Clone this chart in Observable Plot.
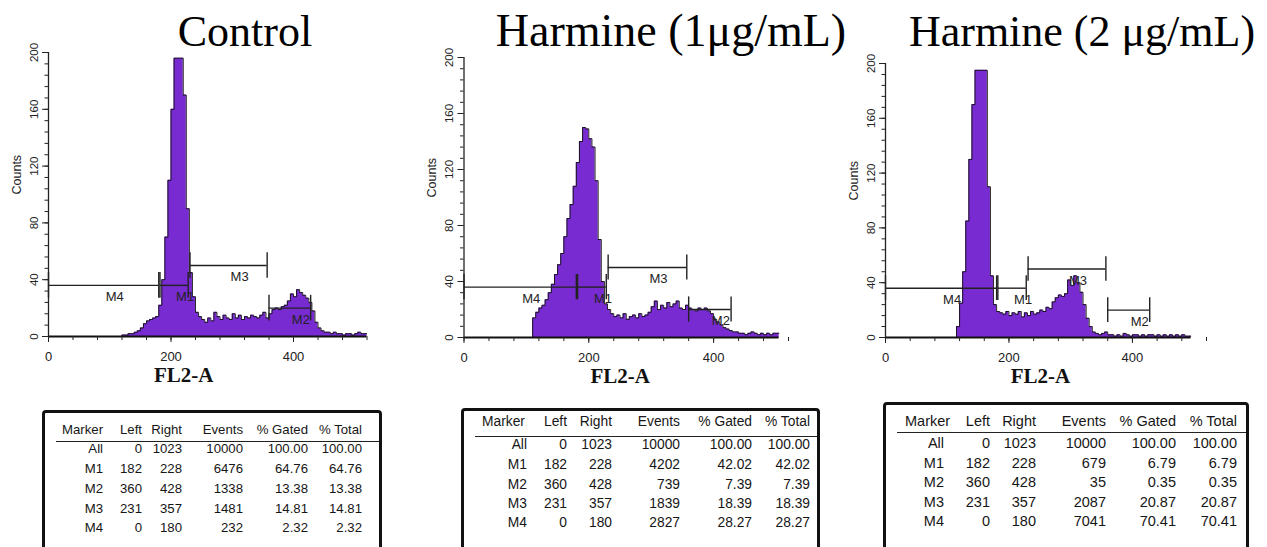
<!DOCTYPE html>
<html><head><meta charset="utf-8">
<script src="https://cdn.jsdelivr.net/npm/d3@7"></script>
<script src="https://cdn.jsdelivr.net/npm/@observablehq/plot@0.6"></script>
<style>
body{margin:0;background:#fff;}
#root{position:relative;width:1267px;height:547px;overflow:hidden;background:#fff;font-family:"Liberation Sans",Arial,sans-serif;}
.panel{position:absolute;top:0;}
.title{position:absolute;width:600px;text-align:center;font-family:"Liberation Serif","Times New Roman",serif;line-height:1;color:#000;white-space:nowrap;}
.tbl{position:absolute;border:3px solid #111;border-radius:4px;box-sizing:border-box;height:220px;background:#fff;}
.cell{position:absolute;white-space:nowrap;line-height:1;color:#161616;}
.hline{position:absolute;height:0;border-top:1.5px solid #222;right:0;}
</style></head><body><div id="root"></div>
<script>
// ---------------- data ----------------
const binWidth = 5; // FL2-A channels per histogram bin (bins start at 0)
const controlCounts = [
  0,0,0,0,0,0,0,0,0,0,0,0,0,0,0,0,0,0,0,0,0,0,0,0,
  1,1,2,2,3,4,6,9,11,12,13,14,22,40,70,110,160,196,196,196,170,90,45,28,17,14,12,
  10,13,11,17,14,12,15,13,12,16,13,15,12,14,13,15,14,13,15,17,13,
  16,19,20,19,21,22,25,30,28,33,31,29,27,24,18,10,6,4,3,3,2,3,2,2,1,2,2,1,2,3,2,2
];
const harmine1Counts = [
  0,0,0,0,0,0,0,0,0,0,0,0,0,0,0,0,0,0,0,0,0,0,
  14,18,21,23,27,32,38,45,52,60,72,85,95,108,125,140,150,149,142,136,112,70,40,24,
  20,17,15,16,14,17,13,15,16,14,17,15,16,18,22,26,20,23,21,25,22,24,26,21,20,23,
  21,20,19,21,20,21,19,17,13,11,9,7,6,5,4,4,3,3,2,3,4,3,2,3,2,3,2,3,3
];
const harmine2Counts = [
  0,0,0,0,0,0,0,0,0,0,0,0,0,0,0,0,0,0,0,0,0,0,0,
  8,25,48,85,130,170,195,195,195,195,110,45,24,19,18,17,19,16,18,17,19,15,18,16,19,17,18,
  20,19,22,21,26,29,31,30,32,42,38,45,40,33,24,14,8,4,3,2,3,4,
  2,2,1,2,1,3,2,1,2,2,1,2,1,2,2,1,2,1,2,1,2,1,2,1,2,1,1
];
const markerNames = ["M1", "M2", "M3", "M4"];
const markerLeft = [182, 360, 231, 0];
const markerRight = [228, 428, 357, 180];
const markerLevel = [36, 20, 50, 36];   // counts at which each marker bar is drawn
const yTicks = [0, 40, 80, 120, 160, 200];
const xTicks = [0, 200, 400];
const titles = ["Control", "Harmine (1\u03bcg/mL)", "Harmine (2 \u03bcg/mL)"];
const xLabel = "FL2-A";
const yLabel = "Counts";

const tableColumns = ["Marker", "Left", "Right", "Events", "% Gated", "% Total"];
const tableMarkers = ["All", "M1", "M2", "M3", "M4"];
const tableLeft = [0, 182, 360, 231, 0];
const tableRight = [1023, 228, 428, 357, 180];
const controlEvents = [10000, 6476, 1338, 1481, 232];
const controlGated = [100, 64.76, 13.38, 14.81, 2.32];
const controlTotal = [100, 64.76, 13.38, 14.81, 2.32];
const harmine1Events = [10000, 4202, 739, 1839, 2827];
const harmine1Gated = [100, 42.02, 7.39, 18.39, 28.27];
const harmine1Total = [100, 42.02, 7.39, 18.39, 28.27];
const harmine2Events = [10000, 679, 35, 2087, 7041];
const harmine2Gated = [100, 6.79, 0.35, 20.87, 70.41];
const harmine2Total = [100, 6.79, 0.35, 20.87, 70.41];

// ---------------- layout ----------------
const purple = "#772bd0";
const layout = [
  {left: 0, width: 400, ml: 48, mr: 33.5, mt: 52, mb: 64, titleX: 245, titleSize: 44, labelDx: -24,
   table: {x: 42, y: 410, w: 340, font: 13.2, markerX: 20, cols: [61, 100, 140, 201, 266, 320], rows: [20, 39, 59, 79, 99, 118], line: 31}},
  {left: 415, width: 410, ml: 48.5, mr: 37, mt: 57, mb: 63, titleX: 671, titleSize: 46, labelDx: -6,
   table: {x: 461, y: 408, w: 359, font: 13.8, markerX: 21, cols: [66, 106, 151, 219, 291, 349], rows: [14, 37, 57, 77, 96, 115], line: 28}},
  {left: 837, width: 430, ml: 48, mr: 61, mt: 63, mb: 63, titleX: 1082, titleSize: 44, labelDx: -5.5,
   table: {x: 883, y: 402, w: 366, font: 14.5, markerX: 22, cols: [61, 107, 153, 223, 293, 354], rows: [19, 41, 61, 80, 100, 119], line: 30}}
];
const panels = [
  {counts: controlCounts, events: controlEvents, gated: controlGated, total: controlTotal},
  {counts: harmine1Counts, events: harmine1Events, gated: harmine1Gated, total: harmine1Total},
  {counts: harmine2Counts, events: harmine2Events, gated: harmine2Gated, total: harmine2Total}
];
const xDomain = [0, 520];
const yDomain = [0, 200];

const root = document.getElementById("root");

function histogram(counts, L) {
  const bins = counts.map((c, k) => ({x: k * binWidth, y: c}));
  const steps = bins.concat([{x: bins.length * binWidth, y: counts[counts.length - 1]}]);
  const markers = markerNames.map((name, k) => ({name, left: markerLeft[k], right: markerRight[k], level: markerLevel[k]}));
  const ends = markers.flatMap(m => [{x: m.left, level: m.level}, {x: m.right, level: m.level}]);
  return Plot.plot({
    width: L.width, height: 400,
    marginLeft: L.ml, marginRight: L.mr, marginTop: L.mt, marginBottom: L.mb,
    x: {domain: xDomain}, y: {domain: yDomain},
    style: {background: "transparent", fontFamily: "'Liberation Sans', Arial, sans-serif", fontSize: "12px", color: "#222", overflow: "visible"},
    marks: [
      Plot.areaY(steps, {x: "x", y: "y", curve: "step-after", fill: purple}),
      Plot.lineY(steps, {x: "x", y: "y", curve: "step-after", stroke: "#111", strokeWidth: 0.9}),
      Plot.ruleY([yDomain[0]], {x1: xDomain[0], x2: steps[steps.length - 1].x, stroke: "#111", strokeWidth: 1.8}),
      Plot.ruleX([xDomain[0]], {y1: yDomain[0], y2: yDomain[1], stroke: "#222", strokeWidth: 1.3}),
      Plot.ruleY(markers, {x1: "left", x2: "right", y: "level", stroke: "#222", strokeWidth: 1.4}),
      Plot.ruleX(ends, {x: "x", y1: d => d.level - 9, y2: d => d.level + 9, stroke: "#222", strokeWidth: 1.4}),
      Plot.text(markers, {x: d => (d.left + d.right) / 2, y: "level", text: "name", textAnchor: "start", dx: 2, dy: 11.5, fontSize: 13, fill: "#222"}),
      Plot.axisY({ticks: yTicks, tickSize: 6, tickPadding: 5, tickRotate: -90, fontSize: 11.5, label: null, stroke: "#222"}),
      Plot.axisY({ticks: d3.range(yDomain[0], yDomain[1] + 1, 8), tickSize: 3.5, text: null, label: null, stroke: "#222"}),
      Plot.axisX({ticks: xTicks, tickSize: 6, tickPadding: 9, fontSize: 13, label: null, stroke: "#222"}),
      Plot.axisX({ticks: d3.range(xDomain[0], xDomain[1] + 1, 40), tickSize: 4, text: null, label: null, stroke: "#222"}),
      Plot.text([yLabel], {text: d => d, frameAnchor: "left", rotate: -90, dx: -32, fontSize: 12.5, fill: "#222"}),
      Plot.text([xLabel], {text: d => d, frameAnchor: "bottom", dy: 45, dx: L.labelDx, fontSize: 21, fontWeight: "bold", fontFamily: "'Liberation Serif', 'Times New Roman', serif", fill: "#111"})
    ]
  });
}

function cell(box, text, x, y, anchor) {
  const s = document.createElement("div");
  s.className = "cell";
  s.textContent = text;
  s.style.left = (x - 3) + "px";
  s.style.top = (y - 3) + "px";
  s.style.transform = anchor === "start" ? "translate(0,-50%)" : "translate(-100%,-50%)";
  box.appendChild(s);
}

function table(P, T) {
  const box = document.createElement("div");
  box.className = "tbl";
  Object.assign(box.style, {left: T.x + "px", top: T.y + "px", width: T.w + "px", fontSize: T.font + "px"});
  tableColumns.forEach((h, c) => cell(box, h, c === 0 ? T.markerX : T.cols[c], T.rows[0], c === 0 ? "start" : "end"));
  const hl = document.createElement("div");
  hl.className = "hline";
  hl.style.left = (14 - 3) + "px";
  hl.style.top = (T.line - 3) + "px";
  box.appendChild(hl);
  tableMarkers.forEach((m, r) => {
    const vals = [m, tableLeft[r], tableRight[r], P.events[r], P.gated[r].toFixed(2), P.total[r].toFixed(2)];
    vals.forEach((v, c) => cell(box, String(v), T.cols[c], T.rows[r + 1], "end"));
  });
  root.appendChild(box);
}

panels.forEach((P, i) => {
  const L = layout[i];
  const div = document.createElement("div");
  div.className = "panel";
  div.style.left = L.left + "px";
  div.appendChild(histogram(P.counts, L));
  root.appendChild(div);
  const t = document.createElement("div");
  t.className = "title";
  t.textContent = titles[i];
  t.style.fontSize = L.titleSize + "px";
  t.style.left = (L.titleX - 300) + "px";
  t.style.top = (47 - 0.84 * L.titleSize) + "px";
  root.appendChild(t);
  table(P, L.table);
});
</script>
</body></html>
